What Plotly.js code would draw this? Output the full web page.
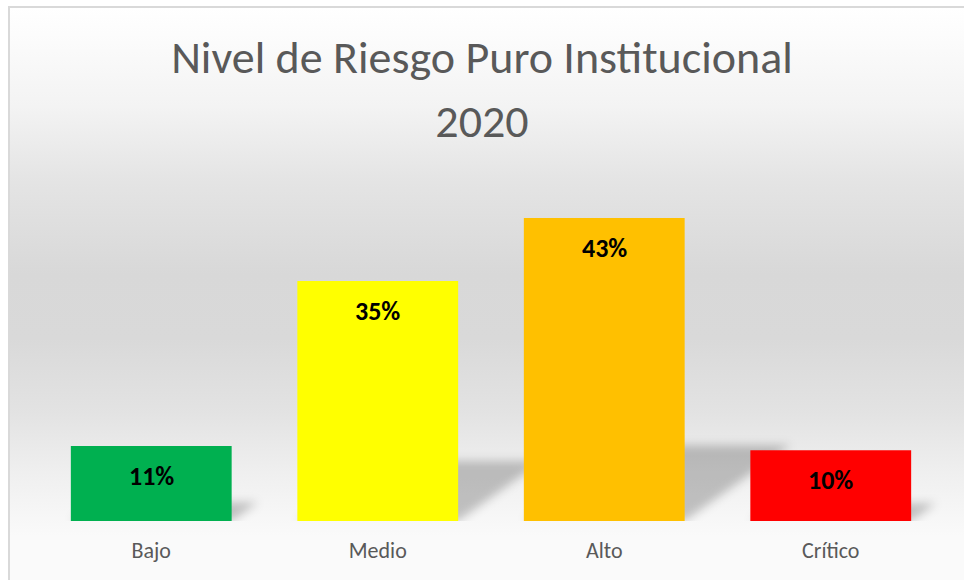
<!DOCTYPE html>
<html>
<head>
<meta charset="utf-8">
<script src="https://cdn.plot.ly/plotly-3.0.1.min.js"></script>
<style>
  html, body { margin: 0; padding: 0; background: #ffffff; }
  #frame {
    position: absolute; left: 8px; top: 6px; width: 964px; height: 580px;
    border-top: 2px solid #d9d9d9; border-left: 2px solid #d9d9d9;
    background: linear-gradient(to bottom, #ffffff 0%, #fbfbfb 6%, #f3f3f3 17%, #e4e4e4 30%, #d8d8d8 46%, #d9d9d9 57%, #e3e3e3 70%, #efefef 80%, #f6f6f6 87%, #fafafa 91%, #fafafa 100%);
  }
  #chart { position: absolute; left: 0; top: 0; width: 964px; height: 580px; }
  .shapelayer path { filter: url(#shblur); }
</style>
</head>
<body>
<svg width="0" height="0" style="position:absolute">
  <defs>
    <filter id="shblur" x="-50%" y="-50%" width="200%" height="200%">
      <feGaussianBlur stdDeviation="5"/>
    </filter>
  </defs>
</svg>
<div id="frame"></div>
<div id="chart"></div>
<script>
const categories = ["Bajo", "Medio", "Alto", "Crítico"];
const values = [10.7, 34.3, 43.3, 10.1];
const labels = ["11%", "35%", "43%", "10%"];
const colors = ["#00b050", "#ffff00", "#ffc000", "#ff0000"];

const idx = categories.map((c, i) => i);
const halfW = 0.355;

// perspective floor shadows derived from each bar's value
const shapes = values.map((v, i) => {
  const h = v * 0.25;
  const sx = h * 7 * 1.4 / 226.5;
  return {
    type: "path", xref: "x", yref: "y", layer: "below",
    path: `M ${i - halfW} 0 L ${i + halfW} 0 L ${i + halfW + sx} ${h} L ${i - halfW + sx} ${h} Z`,
    fillcolor: "rgba(0,0,0,0.22)", line: { width: 0 }
  };
});

const annotations = values.map((v, i) => ({
  x: i, y: v, xref: "x", yref: "y", yshift: -30, yanchor: "middle",
  text: "<b>" + labels[i] + "</b>", showarrow: false,
  font: { family: "Carlito, Calibri, Lato, sans-serif", size: 26, color: "#000000" }
}));

const trace = {
  type: "bar", x: idx, y: values, marker: { color: colors, line: { width: 0 } },
  hoverinfo: "skip"
};

const layout = {
  width: 964, height: 580,
  margin: { l: 38, r: 20, t: 171, b: 59 },
  paper_bgcolor: "rgba(0,0,0,0)", plot_bgcolor: "rgba(0,0,0,0)",
  bargap: 0.29,
  showlegend: false,
  title: {
    text: "<span style='font-size:46px'>Nivel de Riesgo Puro Institucional</span><br><span style='font-size:46px'>2020</span>",
    font: { family: "Carlito, Calibri, Lato, sans-serif", size: 49, weight: 300, color: "#595959" },
    x: 0.5, xanchor: "center", y: 0.874, yanchor: "top", yref: "container"
  },
  xaxis: {
    range: [-0.5, 3.5], tickvals: idx, ticktext: categories,
    showgrid: false, zeroline: false, showline: false, ticks: "",
    ticklabelstandoff: 14,
    tickfont: { family: "Carlito, Calibri, Lato, sans-serif", size: 22, color: "#595959" }
  },
  yaxis: {
    range: [0, 50], visible: false, showgrid: false, zeroline: false
  },
  shapes: shapes,
  annotations: annotations
};

Plotly.newPlot("chart", [trace], layout, { displayModeBar: false, staticPlot: true });
</script>
</body>
</html>
